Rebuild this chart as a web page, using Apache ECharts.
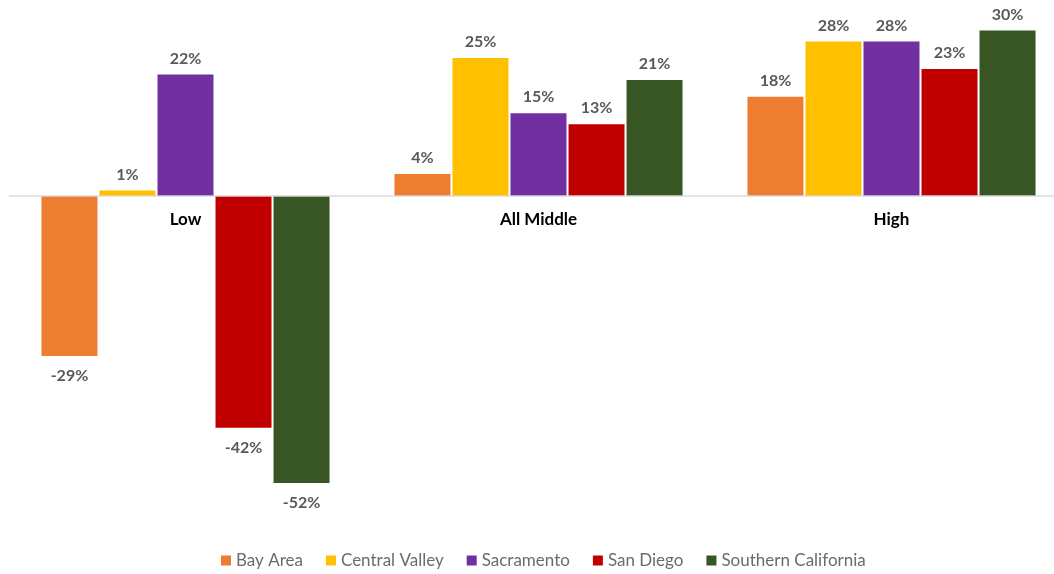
<!DOCTYPE html>
<html lang="en">
<head>
  <meta charset="UTF-8">
  <title>Chart</title>
  <style>
    html, body { margin: 0; padding: 0; background: #fff; }
    #main { width: 1054px; height: 574px; }
  </style>
  <script src="https://cdn.jsdelivr.net/npm/echarts@6/dist/echarts.min.js"></script>
</head>
<body>
  <div id="main"></div>
  <script>
    // data
    var categories = ['Low', 'All Middle', 'High'];
    var regions = ['Bay Area', 'Central Valley', 'Sacramento', 'San Diego', 'Southern California'];
    var colors = ['#ED7D31', '#FFC000', '#7030A0', '#C00000', '#375623'];
    var bayArea = [-29, 4, 18];
    var centralValley = [1, 25, 28];
    var sacramento = [22, 15, 28];
    var sanDiego = [-42, 13, 23];
    var southernCal = [-52, 21, 30];
    var values = [bayArea, centralValley, sacramento, sanDiego, southernCal];

    var myChart = echarts.init(document.getElementById('main'));

    // negative bars get the label underneath
    function toData(arr) {
      return arr.map(function (v) {
        return {
          value: v,
          label: v < 0 ? { position: 'bottom', distance: 12 } : { position: 'top', distance: 8 }
        };
      });
    }

    var series = regions.map(function (name, i) {
      var s = {
        name: name,
        type: 'bar',
        data: toData(values[i]),
        barWidth: 56,
        barGap: '3.6%',
        itemStyle: { color: colors[i] },
        label: {
          show: true,
          formatter: '{c}%',
          color: '#595959',
          fontFamily: 'Lato',
          fontWeight: 'bold',
          fontSize: 16
        }
      };
      if (i === regions.length - 1) {
        // zero line drawn over the bars
        s.markLine = {
          silent: true,
          symbol: 'none',
          label: { show: false },
          lineStyle: { color: '#d9d9d9', width: 2, type: 'solid', opacity: 0.7 },
          data: [{ yAxis: 0 }]
        };
      }
      return s;
    });

    myChart.setOption({
      animation: false,
      grid: {
        left: 9,
        width: 1059,
        top: 2.8,
        height: 524.4,
        containLabel: false,
        outerBoundsMode: 'none'
      },
      legend: {
        data: regions,
        top: 547,
        left: 216,
        itemWidth: 10,
        itemHeight: 10,
        itemGap: 23,
        icon: 'rect',
        textStyle: { color: '#6b6b6b', fontFamily: 'Lato', fontSize: 17 }
      },
      xAxis: {
        type: 'category',
        data: categories,
        axisTick: { show: false },
        axisLine: { show: false },
        // category names sit just under the zero line
        axisLabel: {
          margin: -316,
          color: '#000',
          fontFamily: 'Lato',
          fontWeight: 'bold',
          fontSize: 17
        }
      },
      yAxis: {
        type: 'value',
        min: -60,
        max: 35,
        axisLine: { show: false },
        axisTick: { show: false },
        axisLabel: { show: false },
        splitLine: { show: false }
      },
      series: series
    });
  </script>
</body>
</html>
